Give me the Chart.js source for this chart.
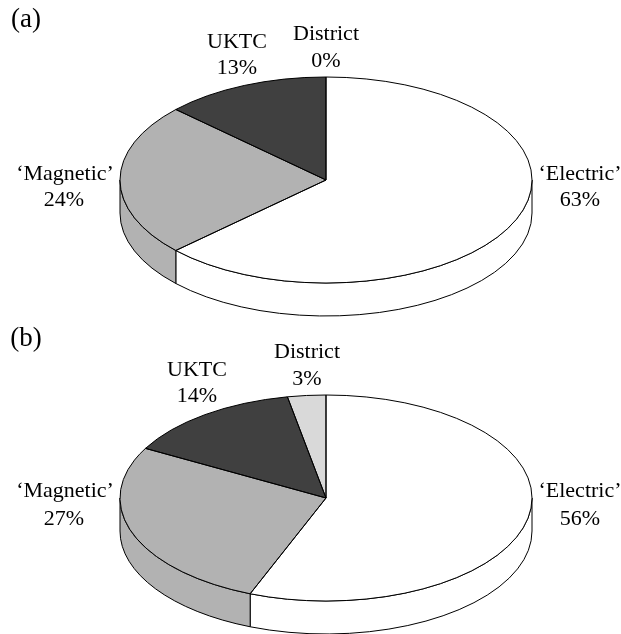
<!DOCTYPE html>
<html>
<head>
<meta charset="utf-8">
<title>Pie charts</title>
<script src="https://cdn.jsdelivr.net/npm/chart.js@4/dist/chart.umd.min.js"></script>
<style>
    html, body { margin: 0; padding: 0; background: #fff; overflow: hidden; }
    #wrap { position: relative; width: 621px; height: 634px; }
    canvas { position: absolute; left: 0; display: block; }
    #pieA { top: 0; }
    #pieB { top: 317px; }
</style>
</head>
<body>
<div id="wrap">
    <canvas id="pieA" width="621" height="317"></canvas>
    <canvas id="pieB" width="621" height="317"></canvas>
</div>
<script>
const categories = ["\u2018Electric\u2019", "\u2018Magnetic\u2019", "UKTC", "District"];
const valuesA = [63, 24, 13, 0];
const valuesB = [56, 27, 14, 3];
const sliceColors = ["#ffffff", "#b2b2b2", "#404040", "#d9d9d9"];

// label centres on each canvas: name line x,y then value line x,y
const labelPosA = [[580, 174, 580, 200], [65, 174, 64, 200], [237, 42, 237, 68], [326, 34, 326, 61]];
const labelPosB = [[580, 174, 580, 202], [65, 174, 64, 202], [197, 53, 197, 79], [307, 35, 307, 62]];

const SQUASH = 0.5;   // ellipse ry / rx
const DEPTH = 33;     // height of the side wall
const RADIUS = 206;

const pie3d = {
    id: "pie3d",
    beforeDatasetsDraw(chart) {
        const ctx = chart.ctx;
        const arcs = chart.getDatasetMeta(0).data;
        ctx.save();
        ctx.strokeStyle = "#000";
        ctx.lineWidth = 1;
        // side wall: only the part of each slice on the front half
        arcs.forEach(function (arc, i) {
            const a0 = Math.max(arc.startAngle, 0);
            const a1 = Math.min(arc.endAngle, Math.PI);
            if (a1 <= a0) { return; }
            const r = arc.outerRadius;
            ctx.beginPath();
            ctx.ellipse(arc.x, arc.y, r, r * SQUASH, 0, a0, a1);
            ctx.ellipse(arc.x, arc.y + DEPTH, r, r * SQUASH, 0, a1, a0, true);
            ctx.closePath();
            ctx.fillStyle = sliceColors[i];
            ctx.fill();
            ctx.stroke();
        });
        ctx.restore();

        // squash the library's own arcs into the top face
        const c = arcs[0];
        ctx.save();
        ctx.translate(c.x, c.y);
        ctx.scale(1, SQUASH);
        ctx.translate(-c.x, -c.y);
    },
    afterDatasetsDraw(chart) {
        const ctx = chart.ctx;
        ctx.restore();
        const arcs = chart.getDatasetMeta(0).data;
        ctx.save();
        ctx.strokeStyle = "#000";
        ctx.lineWidth = 1;
        arcs.forEach(function (arc) {
            if (arc.endAngle - arc.startAngle <= 0) { return; }
            const r = arc.outerRadius;
            ctx.beginPath();
            ctx.moveTo(arc.x, arc.y);
            ctx.ellipse(arc.x, arc.y, r, r * SQUASH, 0, arc.startAngle, arc.endAngle);
            ctx.closePath();
            ctx.stroke();
        });
        ctx.restore();
    },
    afterDraw(chart, args, opts) {
        const ctx = chart.ctx;
        ctx.save();
        ctx.fillStyle = "#000";
        ctx.textAlign = "center";
        ctx.textBaseline = "middle";
        ctx.font = "22px 'Liberation Serif'";
        chart.data.labels.forEach(function (name, i) {
            const p = opts.positions[i];
            ctx.fillText(name, p[0], p[1]);
            ctx.fillText(chart.data.datasets[0].data[i] + "%", p[2], p[3]);
        });
        ctx.font = "27px 'Liberation Serif'";
        ctx.fillText(opts.tag, 26, opts.tagY);
        ctx.restore();
    }
};

function buildPie(id, values, tag, tagY, positions, padTop) {
    new Chart(document.getElementById(id), {
        type: "pie",
        data: {
            labels: categories,
            datasets: [{
                data: values,
                backgroundColor: sliceColors,
                borderWidth: 0,
                clip: false
            }]
        },
        options: {
            responsive: false,
            animation: false,
            radius: RADIUS,
            layout: { padding: { left: 31, top: padTop } },
            plugins: {
                legend: { display: false },
                tooltip: { enabled: false },
                pie3d: { tag: tag, tagY: tagY, positions: positions }
            }
        },
        plugins: [pie3d]
    });
}

buildPie("pieA", valuesA, "(a)", 20, labelPosA, 43);
buildPie("pieB", valuesB, "(b)", 22, labelPosB, 45);
</script>
</body>
</html>
